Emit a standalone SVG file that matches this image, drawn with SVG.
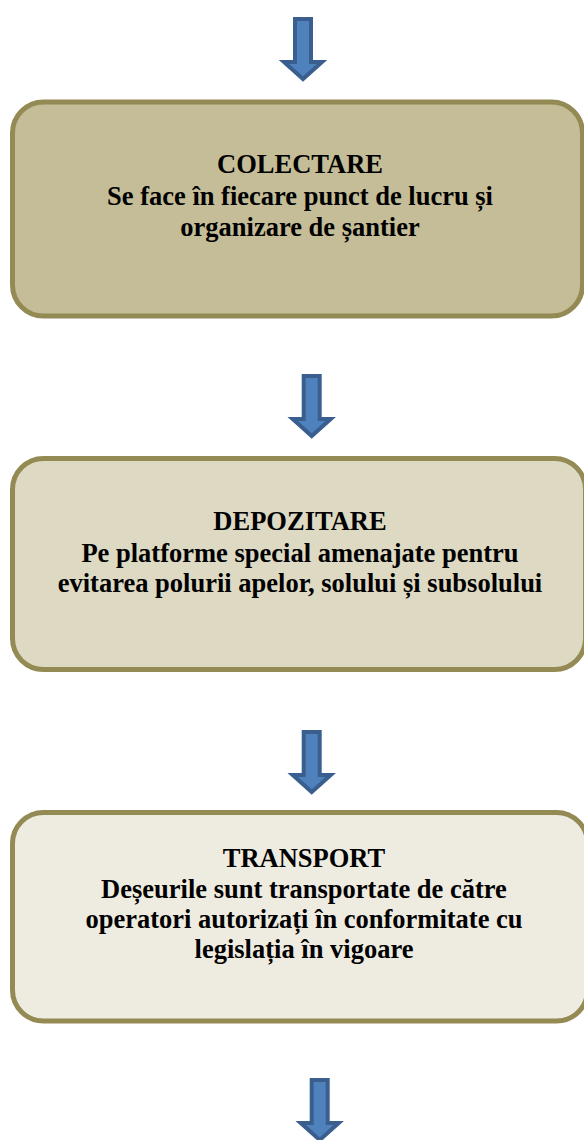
<svg xmlns="http://www.w3.org/2000/svg" xmlns:xlink="http://www.w3.org/1999/xlink" width="584" height="1140" viewBox="0 0 584 1140">
  <style>
    .box { stroke: #948A54; stroke-width: 5; }
    .b1 { fill: #C4BD97; }
    .b2 { fill: #DDD9C3; }
    .b3 { fill: #EEECE1; }
    .lbl { font-family: "Liberation Serif", "Times New Roman", serif; font-weight: bold; font-size: 26.5px; fill: #000; text-anchor: middle; }
    .arrow { fill: #4F81BD; stroke: #3A5F8E; stroke-width: 4; stroke-linejoin: miter; }
  </style>
  <defs>
    <!-- block arrow pointing down, origin at top centre -->
    <path id="down" d="M -8 2 H 8 V 45 H 19 L 0 62 L -19 45 H -8 Z"/>
  </defs>

  <rect width="584" height="1140" fill="#FFFFFF"/>

  <g id="connectors">
    <use xlink:href="#down" class="arrow" transform="translate(303,17)"/>
    <use xlink:href="#down" class="arrow" transform="translate(311.7,374)"/>
    <use xlink:href="#down" class="arrow" transform="translate(311.7,730)"/>
    <use xlink:href="#down" class="arrow" transform="translate(319.7,1078)"/>
  </g>

  <g id="colectare">
    <rect class="box b1" x="12.5" y="102" width="570" height="214" rx="31" ry="31"/>
    <text class="lbl" x="300" y="173">COLECTARE</text>
    <text class="lbl" x="300" y="205">Se face în fiecare punct de lucru și</text>
    <text class="lbl" x="300" y="236">organizare de șantier</text>
  </g>

  <g id="depozitare">
    <rect class="box b2" x="12.5" y="458.5" width="573" height="211" rx="31" ry="31"/>
    <text class="lbl" x="300" y="530">DEPOZITARE</text>
    <text class="lbl" x="300" y="561.5">Pe platforme special amenajate pentru</text>
    <text class="lbl" x="300" y="592">evitarea polurii apelor, solului și subsolului</text>
  </g>

  <g id="transport">
    <rect class="box b3" x="12.5" y="812.5" width="575" height="208.5" rx="31" ry="31"/>
    <text class="lbl" x="304" y="866.5">TRANSPORT</text>
    <text class="lbl" x="304" y="897.5">Deșeurile sunt transportate de către</text>
    <text class="lbl" x="304" y="927.5">operatori autorizați în conformitate cu</text>
    <text class="lbl" x="304" y="958">legislația în vigoare</text>
  </g>
</svg>
